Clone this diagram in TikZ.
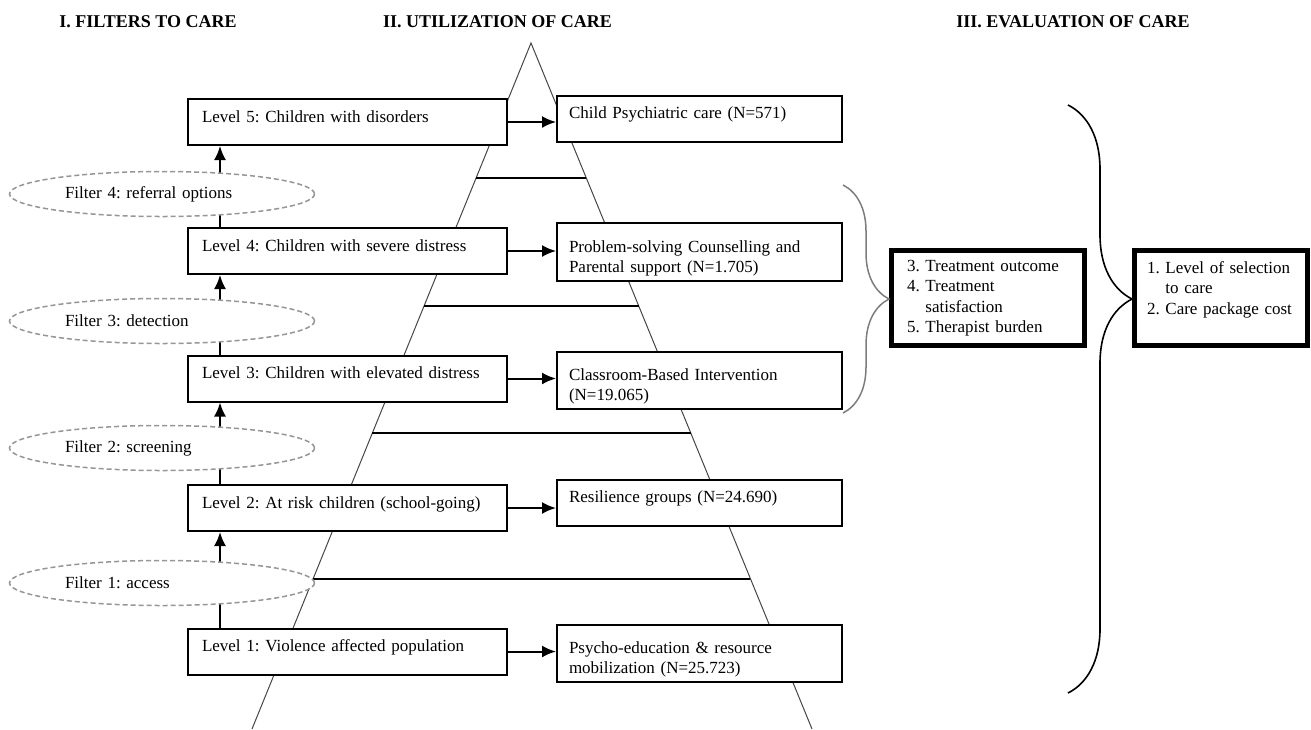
\documentclass[tikz,border=0pt]{standalone}
\usepackage{fontspec}
\setmainfont{Liberation Serif}
\frenchspacing
\usetikzlibrary{arrows.meta,positioning,calc,shapes.geometric,decorations.pathreplacing}
\definecolor{filtgray}{RGB}{150,150,150}
\definecolor{bracegray}{RGB}{125,125,125}
\definecolor{pyrgray}{RGB}{70,70,70}
\tikzset{
  lvl/.style={rectangle,draw=black,line width=1pt,fill=white,
              minimum width=159.5pt,minimum height=23pt,text width=145.5pt,
              inner xsep=7pt,align=left,text depth=5.5pt,
              font=\fontsize{8.5}{10.2}\selectfont},
  care/.style={lvl,minimum width=142.5pt,text width=130.5pt,inner xsep=6pt},
  filt/.style={ellipse,draw=filtgray,line width=0.75pt,
               dash pattern=on 2.5pt off 1.5pt,fill=white,
               minimum width=152.5pt,minimum height=22.5pt,
               text width=97pt,align=left,font=\fontsize{8.5}{10.2}\selectfont},
  evalbox/.style={rectangle,draw=black,line width=2.5pt,fill=white,
                  minimum height=47.5pt,align=left,
                  font=\fontsize{8.5}{10.2}\selectfont},
  head/.style={font=\fontsize{9}{10.8}\selectfont\bfseries},
  arr/.style={-{Latex[length=7pt,width=6pt]},line width=1pt},
  rung/.style={line width=1pt},
  brc/.style={decorate,decoration={brace,amplitude=#1}},
}

\begin{document}
\begin{tikzpicture}[x=0.5pt,y=-0.5pt]
  \useasboundingbox (0,0) rectangle (1311,729);

  % headings
  \node[head] (hfilt) at (148,22)   {I. FILTERS TO CARE};
  \node[head] (hutil) at (497.5,22) {II. UTILIZATION OF CARE};
  \node[head] (heval) at (1073,22)  {III. EVALUATION OF CARE};

  % pyramid
  \coordinate (top) at (531,43);
  \coordinate (bl)  at (252,729);
  \coordinate (br)  at (812,729);
  \draw[pyrgray,line width=0.5pt] (bl) -- (top) -- (br);
  \foreach \t in {0.197,0.383,0.569,0.781}{
    \draw[rung] ($(top)!\t!(bl)$) -- ($(top)!\t!(br)$);
  }

  % levels
  \node[lvl] (lv5) at (347.5,122)   {Level 5: Children with disorders};
  \node[lvl] (lv4) at (347.5,251)   {Level 4: Children with severe distress};
  \node[lvl] (lv3) at (347.5,378.5) {Level 3: Children with elevated distress};
  \node[lvl] (lv2) at (347.5,508)   {Level 2: At risk children (school-going)};
  \node[lvl] (lv1) at (347.5,651.5) {Level 1: Violence affected population};

  % care packages
  \node[care] (cr5) at (699.5,118.5) {Child Psychiatric care (N=571)};
  \node[care,minimum height=29pt] (cr4) at (699.5,252)
        {Problem-solving Counselling and\\Parental support (N=1.705)};
  \node[care,minimum height=28.5pt] (cr3) at (699.5,380)
        {Classroom-Based Intervention\\(N=19.065)};
  \node[care] (cr2) at (699.5,502.5) {Resilience groups (N=24.690)};
  \node[care,minimum height=28.5pt] (cr1) at (699.5,653)
        {Psycho-education \& resource\\mobilization (N=25.723)};

  \foreach \i in {1,...,5}{
    \draw[arr] (lv\i.east) -- (lv\i.east -| cr\i.west);
  }
  \foreach \i/\j in {1/2,2/3,3/4,4/5}{
    \draw[arr] ([xshift=16.5pt]lv\i.north west) -- ([xshift=16.5pt]lv\j.south west);
  }

  % filters
  \node[filt] (fl1) at (162,583) {Filter 1: access};
  \node[filt] (fl2) at (162,448) {Filter 2: screening};
  \node[filt] (fl3) at (162,321) {Filter 3: detection};
  \node[filt] (fl4) at (162,194) {Filter 4: referral options};

  % evaluation
  \node[evalbox,minimum width=96.5pt,text width=81pt] (ev1) at (988,298)
        {3.~Treatment outcome\\4.~Treatment\\\phantom{4.~}satisfaction\\5.~Therapist burden};
  \node[evalbox,minimum width=86.5pt,text width=74pt] (ev2) at (1221,298)
        {1.~Level of selection\\\phantom{1.~}to care\\2.~Care package cost\\~};

  \draw[brc=23pt,bracegray,line width=0.75pt] (843,185) -- (843,413);
  \draw[brc=32pt,line width=0.8pt,decoration={aspect=0.33}] (1068,105) -- (1068,693);

\end{tikzpicture}
\end{document}
